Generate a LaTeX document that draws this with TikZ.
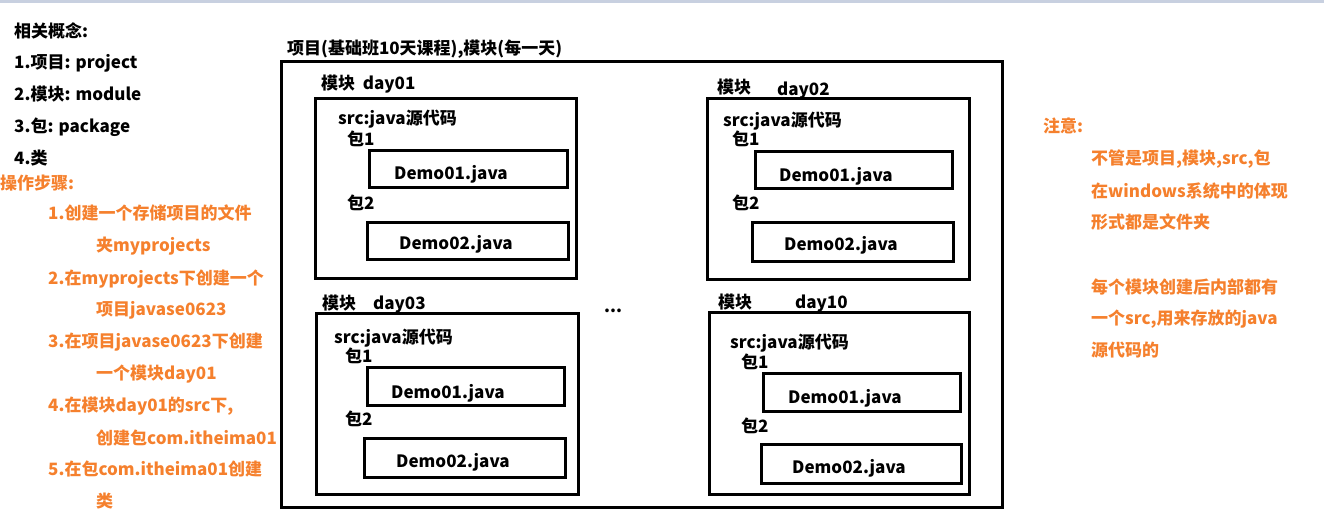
\documentclass[tikz,border=0pt]{standalone}
\usepackage{fontspec}
\setmainfont{Noto Sans CJK SC}
\definecolor{orng}{RGB}{245,128,45}
\definecolor{band}{RGB}{200,208,224}
\tikzset{
  txt/.style={anchor=base west, inner sep=0pt, font=\fontsize{17}{20}\selectfont\bfseries},
  otxt/.style={txt, text=orng},
  box/.style={draw=black, line width=3pt},
}
\newcommand{\bl}[1]{#1+6}
\begin{document}
\begin{tikzpicture}[x=1pt,y=-1pt]
\useasboundingbox (0,0) rectangle (1324,514);
\fill[band] (0,0) rectangle (1324,2.5);
% left notes
\node[txt] (c0) at (14,\bl{31}) {相关概念:};
\node[txt] (c1) at (14,\bl{62}) {1.项目: project};
\node[txt] (c2) at (14,\bl{94}) {2.模块: module};
\node[txt] (c3) at (14,\bl{126}) {3.包: package};
\node[txt] (c4) at (14,\bl{158}) {4.类};
\node[otxt] (s0) at (0,\bl{183}) {操作步骤:};
\node[otxt] (s1) at (48,\bl{213}) {1.创建一个存储项目的文件};
\node[otxt] (s1b) at (96,\bl{245}) {夹myprojects};
\node[otxt] (s2) at (48,\bl{278}) {2.在myprojects下创建一个};
\node[otxt] (s2b) at (96,\bl{309}) {项目javase0623};
\node[otxt] (s3) at (48,\bl{341}) {3.在项目javase0623下创建};
\node[otxt] (s3b) at (96,\bl{373}) {一个模块day01};
\node[otxt] (s4) at (48,\bl{405}) {4.在模块day01的src下,};
\node[otxt] (s4b) at (96,\bl{438}) {创建包com.itheima01};
\node[otxt] (s5) at (48,\bl{469}) {5.在包com.itheima01创建};
\node[otxt] (s5b) at (96,\bl{501}) {类};
% right notes
\node[otxt] (n0) at (1043,\bl{126}) {注意:};
\node[otxt] (n1) at (1091,\bl{158}) {不管是项目,模块,src,包};
\node[otxt] (n2) at (1091,\bl{191}) {在windows系统中的体现};
\node[otxt] (n3) at (1091,\bl{222}) {形式都是文件夹};
\node[otxt] (n4) at (1091,\bl{287}) {每个模块创建后内部都有};
\node[otxt] (n5) at (1091,\bl{318}) {一个src,用来存放的java};
\node[otxt] (n6) at (1091,\bl{350}) {源代码的};
% title and outer box
\node[txt] (title) at (287,\bl{48}) {项目(基础班10天课程),模块(每一天)};
\draw[box] (281,61) rectangle (1002,507);
% day01
\node[txt] (l1) at (321,\bl{83}) {模块\ \ day01};
\draw[box] (315,98) rectangle (576,278);
\node[txt] (src1) at (338,\bl{118}) {src:java源代码};
\node[txt] (p11) at (347,\bl{139}) {包1};
\draw[box] (369,150) rectangle (567,187);
\node[txt] (d11) at (394,\bl{173}) {Demo01.java};
\node[txt] (p12) at (347,\bl{203}) {包2};
\draw[box] (367,222) rectangle (568,259);
\node[txt] (d12) at (399,\bl{243}) {Demo02.java};
% day02
\node[txt] (l2a) at (717,\bl{87}) {模块};
\node[txt] (l2b) at (777,\bl{89}) {day02};
\draw[box] (707,98) rectangle (969,279);
\node[txt] (src2) at (723,\bl{120}) {src:java源代码};
\node[txt] (p21) at (732,\bl{139}) {包1};
\draw[box] (755,151) rectangle (952,188);
\node[txt] (d21) at (779,\bl{175}) {Demo01.java};
\node[txt] (p22) at (732,\bl{203}) {包2};
\draw[box] (752,222) rectangle (953,261);
\node[txt] (d22) at (784,\bl{244}) {Demo02.java};
% day03
\node[txt] (l3a) at (322,\bl{303}) {模块};
\node[txt] (l3b) at (373,\bl{303}) {day03};
\draw[box] (316,313) rectangle (578,494);
\node[txt] (src3) at (334,\bl{337}) {src:java源代码};
\node[txt] (p31) at (345,\bl{356}) {包1};
\draw[box] (367,367) rectangle (564,405);
\node[txt] (d31) at (391,\bl{392}) {Demo01.java};
\node[txt] (p32) at (345,\bl{419}) {包2};
\draw[box] (364,438) rectangle (565,477);
\node[txt] (d32) at (396,\bl{461}) {Demo02.java};
% dots
\node[txt] (dots) at (604,\bl{306}) {...};
% day10
\node[txt] (l4a) at (718,\bl{302}) {模块};
\node[txt] (l4b) at (795,\bl{302}) {day10};
\draw[box] (709,312) rectangle (969,494);
\node[txt] (src4) at (730,\bl{342}) {src:java源代码};
\node[txt] (p41) at (741,\bl{362}) {包1};
\draw[box] (763,373) rectangle (960,411);
\node[txt] (d41) at (788,\bl{397}) {Demo01.java};
\node[txt] (p42) at (741,\bl{426}) {包2};
\draw[box] (761,444) rectangle (961,483);
\node[txt] (d42) at (792,\bl{467}) {Demo02.java};
\end{tikzpicture}
\end{document}
